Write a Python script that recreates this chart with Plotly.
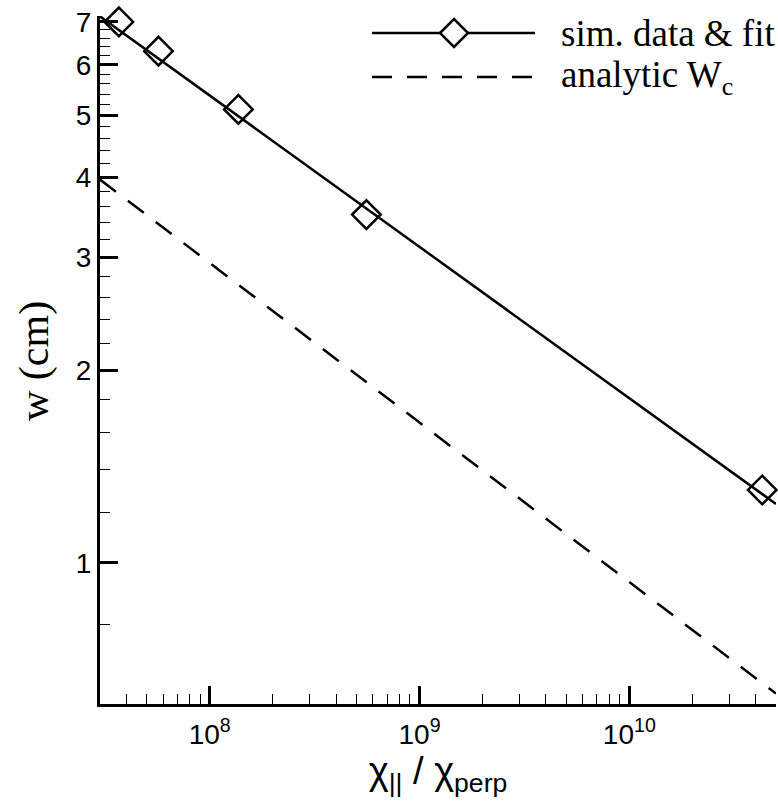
import numpy as np
import plotly.graph_objects as go

# ---- data ----
sim_x = [3.69e7, 5.7e7, 1.37e8, 5.58e8, 4.3e10]
sim_w = [7.0, 6.3, 5.11, 3.50, 1.30]

fit_x = [3.0e7, 5.0e10]
fit_w = [7.14, 1.236]

analytic_x = [3.0e7, 5.0e10]
analytic_w = [3.97, 0.625]

x_major = [1e8, 1e9, 1e10]
x_major_text = ["10<sup>8</sup>", "10<sup>9</sup>", "10<sup>10</sup>"]
x_minor = [3e7, 4e7, 5e7, 6e7, 7e7, 8e7, 9e7,
           2e8, 3e8, 4e8, 5e8, 6e8, 7e8, 8e8, 9e8,
           2e9, 3e9, 4e9, 5e9, 6e9, 7e9, 8e9, 9e9,
           2e10, 3e10, 4e10, 5e10]
y_major = [1, 2, 3, 4, 5, 6, 7]
y_minor = [0.6, 0.8, 1.2, 1.4, 1.6, 1.8, 2.2, 2.4, 2.6, 2.8,
           3.2, 3.4, 3.6, 3.8, 4.2, 4.4, 4.6, 4.8, 5.2, 5.4, 5.6, 5.8,
           6.2, 6.4, 6.6, 6.8]

fig = go.Figure()
fig.add_trace(go.Scatter(x=analytic_x, y=analytic_w, mode="lines",
                         line=dict(color="black", width=2.5, dash="20px,15px"),
                         showlegend=False))
fig.add_trace(go.Scatter(x=fit_x, y=fit_w, mode="lines",
                         line=dict(color="black", width=2.5),
                         showlegend=False))
fig.add_trace(go.Scatter(x=sim_x, y=sim_w, mode="markers",
                         marker=dict(symbol="diamond-open", size=22, color="black",
                                     line=dict(width=2.5, color="black")),
                         showlegend=False, cliponaxis=False))

W, H = 778, 806
L, R, T, B = 100, 2, 16, 102
pw, ph = W - L - R, H - T - B

def px(x):
    return (x - L) / pw

def py(y):
    return (H - B - y) / ph

shapes = [
    dict(type="line", xref="paper", yref="paper", x0=px(372), x1=px(535),
         y0=py(33), y1=py(33), line=dict(color="black", width=2.5)),
    dict(type="path", xref="paper", yref="paper", xsizemode="pixel", ysizemode="pixel",
         xanchor=px(454), yanchor=py(33),
         path="M -14 0 L 0 14 L 14 0 L 0 -14 Z",
         fillcolor="white", line=dict(color="black", width=2.5)),
    dict(type="line", xref="paper", yref="paper", x0=px(372), x1=px(535),
         y0=py(77), y1=py(77), line=dict(color="black", width=2.5, dash="20px,15px")),
]
annotations = [
    dict(text="sim. data &amp; fit", xref="paper", yref="paper", x=px(559), y=py(33),
         xanchor="left", yanchor="middle", showarrow=False,
         font=dict(family="Liberation Serif", size=37, color="black")),
    dict(text="analytic W<sub>c</sub>", xref="paper", yref="paper", x=px(559), y=py(77),
         xanchor="left", yanchor="middle", showarrow=False,
         font=dict(family="Liberation Serif", size=37, color="black")),
    dict(text="w (cm)", xref="paper", yref="paper", x=px(34), y=py(361),
         xanchor="center", yanchor="middle", textangle=-90, showarrow=False,
         font=dict(family="Liberation Serif", size=42, color="black")),
]

fig.update_layout(
    width=W, height=H,
    margin=dict(l=L, r=R, t=T, b=B, autoexpand=False),
    plot_bgcolor="white", paper_bgcolor="white",
    shapes=shapes, annotations=annotations,
    showlegend=False,
)
fig.update_xaxes(
    type="log", range=[np.log10(3.0e7), np.log10(5.0e10)],
    showline=True, linecolor="black", linewidth=3, mirror=False,
    showgrid=False, zeroline=False,
    ticks="inside", ticklen=18, tickwidth=3, tickcolor="black",
    tickmode="array", tickvals=x_major, ticktext=x_major_text,
    tickfont=dict(family="Liberation Sans", size=28, color="black"),
    ticklabelstandoff=3,
    minor=dict(tickmode="array", tickvals=x_minor, ticks="inside", ticklen=10,
               tickwidth=1.3, tickcolor="black", showgrid=False),
    title=dict(text="χ<sub>||</sub> / χ<sub>perp</sub>",
               font=dict(family="Liberation Sans", size=38, color="black"), standoff=6),
)
fig.update_yaxes(
    type="log", range=[np.log10(0.602), np.log10(7.15)],
    showline=True, linecolor="black", linewidth=3, mirror=False,
    showgrid=False, zeroline=False,
    ticks="inside", ticklen=18, tickwidth=3, tickcolor="black",
    tickmode="array", tickvals=y_major, ticktext=[str(v) for v in y_major],
    tickfont=dict(family="Liberation Sans", size=28, color="black"),
    minor=dict(tickmode="array", tickvals=y_minor, ticks="inside", ticklen=10,
               tickwidth=1.3, tickcolor="black", showgrid=False),
)

fig.write_html("out.html", config={"displayModeBar": False},
               post_script="document.body.style.margin='0';document.body.style.overflow='hidden';")
